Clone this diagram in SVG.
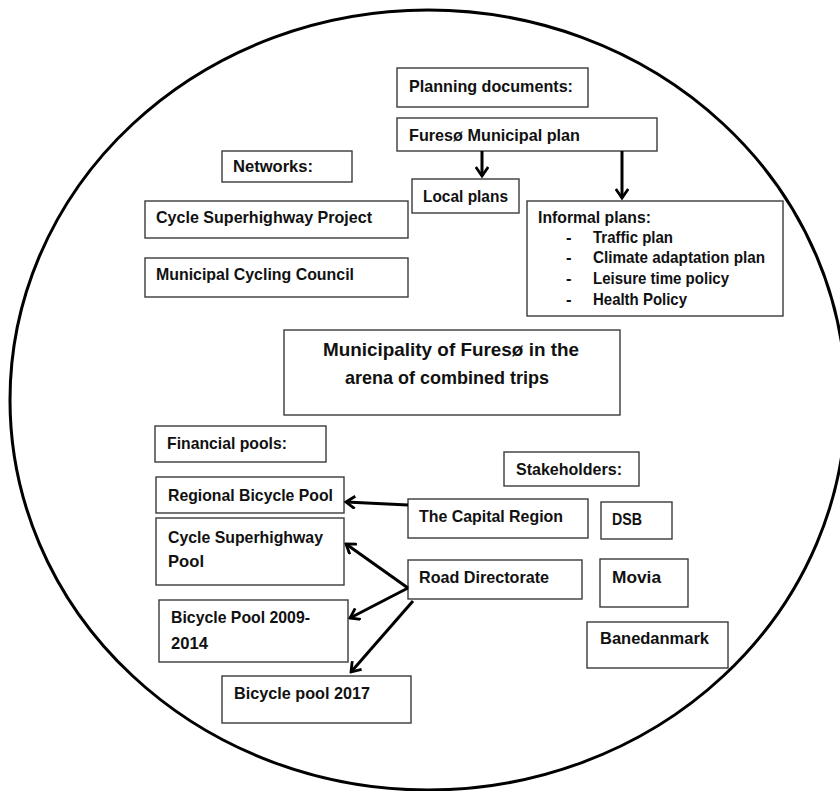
<svg xmlns="http://www.w3.org/2000/svg" width="840" height="791" viewBox="0 0 840 791">
  <style>
    .box { fill: #ffffff; stroke: #3a3a3a; stroke-width: 1.4; }
    .lbl { font-family: "Liberation Sans", Arial, sans-serif; font-weight: bold; font-size: 16.5px; fill: #111111; }
    .big { font-size: 19px; }
    .edge { fill: none; stroke: #000000; stroke-width: 3; marker-end: url(#chev); }
  </style>
  <defs>
    <marker id="chev" viewBox="0 0 12 14" refX="10" refY="7" markerWidth="12" markerHeight="14" markerUnits="userSpaceOnUse" orient="auto">
      <path d="M1,0.8 L10,7 L1,13.2" fill="none" stroke="#000000" stroke-width="2.8" stroke-linejoin="miter"/>
    </marker>
  </defs>
  <rect width="840" height="791" fill="#ffffff"/>

  <!-- arena boundary -->
  <ellipse cx="428" cy="400" rx="418" ry="390" fill="none" stroke="#000000" stroke-width="3"/>

  <g id="planning-documents">
    <rect class="box" x="397" y="68" width="191" height="39"/>
    <text class="lbl" x="409" y="92" textLength="164" lengthAdjust="spacingAndGlyphs">Planning documents:</text>
  </g>
  <g id="municipal-plan">
    <rect class="box" x="397" y="118" width="260" height="33"/>
    <text class="lbl" x="409" y="141" textLength="171" lengthAdjust="spacingAndGlyphs">Furesø Municipal plan</text>
  </g>
  <g id="local-plans">
    <rect class="box" x="412" y="179" width="107" height="34"/>
    <text class="lbl" x="423" y="202" textLength="85" lengthAdjust="spacingAndGlyphs">Local plans</text>
  </g>
  <g id="informal-plans">
    <rect class="box" x="527" y="201" width="256" height="115"/>
    <text class="lbl" x="538" y="223" textLength="113" lengthAdjust="spacingAndGlyphs">Informal plans:</text>
    <text class="lbl" x="566" y="243">-</text>
    <text class="lbl" x="593" y="243" textLength="80" lengthAdjust="spacingAndGlyphs">Traffic plan</text>
    <text class="lbl" x="566" y="263">-</text>
    <text class="lbl" x="593" y="263" textLength="172" lengthAdjust="spacingAndGlyphs">Climate adaptation plan</text>
    <text class="lbl" x="566" y="284">-</text>
    <text class="lbl" x="593" y="284" textLength="136" lengthAdjust="spacingAndGlyphs">Leisure time policy</text>
    <text class="lbl" x="566" y="305">-</text>
    <text class="lbl" x="593" y="305" textLength="94" lengthAdjust="spacingAndGlyphs">Health Policy</text>
  </g>
  <g id="networks">
    <rect class="box" x="222" y="151" width="130" height="31"/>
    <text class="lbl" x="233" y="172" textLength="80" lengthAdjust="spacingAndGlyphs">Networks:</text>
  </g>
  <g id="cycle-superhighway-project">
    <rect class="box" x="145" y="201" width="263" height="37"/>
    <text class="lbl" x="156" y="223" textLength="216" lengthAdjust="spacingAndGlyphs">Cycle Superhighway Project</text>
  </g>
  <g id="cycling-council">
    <rect class="box" x="145" y="258" width="263" height="39"/>
    <text class="lbl" x="156" y="280" textLength="198" lengthAdjust="spacingAndGlyphs">Municipal Cycling Council</text>
  </g>
  <g id="municipality">
    <rect class="box" x="284" y="330" width="336" height="85"/>
    <text class="lbl big" x="323" y="356" textLength="256" lengthAdjust="spacingAndGlyphs">Municipality of Furesø in the</text>
    <text class="lbl big" x="345" y="384" textLength="204" lengthAdjust="spacingAndGlyphs">arena of combined trips</text>
  </g>
  <g id="financial-pools">
    <rect class="box" x="155" y="426" width="171" height="36"/>
    <text class="lbl" x="167" y="449" textLength="120" lengthAdjust="spacingAndGlyphs">Financial pools:</text>
  </g>
  <g id="regional-bicycle-pool">
    <rect class="box" x="156" y="477" width="188" height="36"/>
    <text class="lbl" x="168" y="501" textLength="165" lengthAdjust="spacingAndGlyphs">Regional Bicycle Pool</text>
  </g>
  <g id="superhighway-pool">
    <rect class="box" x="156" y="518" width="188" height="67"/>
    <text class="lbl" x="168" y="543" textLength="155" lengthAdjust="spacingAndGlyphs">Cycle Superhighway</text>
    <text class="lbl" x="168" y="567" textLength="36" lengthAdjust="spacingAndGlyphs">Pool</text>
  </g>
  <g id="bicycle-pool-2009">
    <rect class="box" x="159" y="600" width="189" height="62"/>
    <text class="lbl" x="171" y="623" textLength="139" lengthAdjust="spacingAndGlyphs">Bicycle Pool 2009-</text>
    <text class="lbl" x="171" y="649" textLength="37" lengthAdjust="spacingAndGlyphs">2014</text>
  </g>
  <g id="bicycle-pool-2017">
    <rect class="box" x="222" y="676" width="189" height="47"/>
    <text class="lbl" x="234" y="699" textLength="136" lengthAdjust="spacingAndGlyphs">Bicycle pool 2017</text>
  </g>
  <g id="stakeholders">
    <rect class="box" x="504" y="452" width="135" height="34"/>
    <text class="lbl" x="516" y="475" textLength="106" lengthAdjust="spacingAndGlyphs">Stakeholders:</text>
  </g>
  <g id="capital-region">
    <rect class="box" x="408" y="499" width="180" height="39"/>
    <text class="lbl" x="419" y="522" textLength="144" lengthAdjust="spacingAndGlyphs">The Capital Region</text>
  </g>
  <g id="road-directorate">
    <rect class="box" x="408" y="560" width="174" height="39"/>
    <text class="lbl" x="419" y="583" textLength="130" lengthAdjust="spacingAndGlyphs">Road Directorate</text>
  </g>
  <g id="dsb">
    <rect class="box" x="601" y="502" width="71" height="37"/>
    <text class="lbl" x="612" y="525" textLength="30" lengthAdjust="spacingAndGlyphs">DSB</text>
  </g>
  <g id="movia">
    <rect class="box" x="600" y="559" width="88" height="48"/>
    <text class="lbl" x="612" y="583" textLength="49" lengthAdjust="spacingAndGlyphs">Movia</text>
  </g>
  <g id="banedanmark">
    <rect class="box" x="587" y="622" width="141" height="46"/>
    <text class="lbl" x="600" y="644" textLength="109" lengthAdjust="spacingAndGlyphs">Banedanmark</text>
  </g>

  <g id="connectors">
    <line class="edge" x1="482" y1="151" x2="482" y2="176"/>
    <line class="edge" x1="622" y1="151" x2="622" y2="198"/>
    <line class="edge" x1="408" y1="505" x2="346" y2="502"/>
    <line class="edge" x1="408" y1="588" x2="346" y2="544"/>
    <line class="edge" x1="408" y1="588" x2="350" y2="618"/>
    <line class="edge" x1="413" y1="601" x2="351" y2="672"/>
  </g>
</svg>
